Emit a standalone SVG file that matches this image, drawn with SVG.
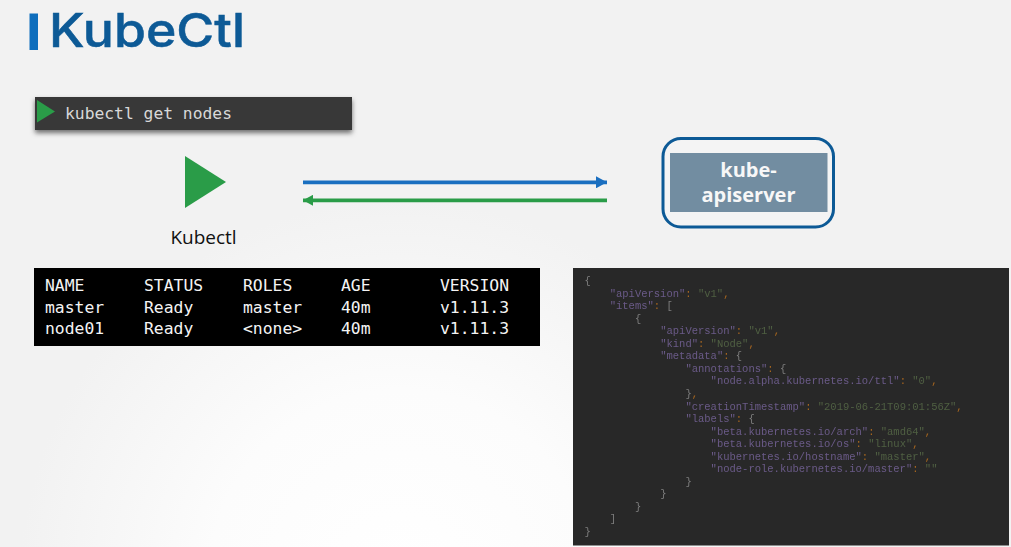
<svg xmlns="http://www.w3.org/2000/svg" width="1011" height="547" viewBox="0 0 1011 547">
<style>
.term{font-family:"DejaVu Sans Mono","Liberation Mono",monospace;font-size:16.4px;fill:#f4f4f4}
.js{font-family:"Liberation Mono",monospace;font-size:10.5px;white-space:pre;fill:#6a5a88}
.p{fill:#a5651f}.v{fill:#4f5f42}.b{fill:#7d7d7d}
.api{font-family:"Open Sans","Noto Sans",sans-serif;font-weight:700;font-size:20px;fill:#f7f7f7;text-anchor:middle}
</style>
<defs>
<radialGradient id="bg" gradientUnits="userSpaceOnUse" cx="400" cy="580" r="380">
<stop offset="0" stop-color="#ffffff"/><stop offset="0.5" stop-color="#fcfcfc"/><stop offset="1" stop-color="#f2f2f2"/>
</radialGradient>
<filter id="sh" x="-5%" y="-20%" width="110%" height="150%"><feDropShadow dx="0" dy="3" stdDeviation="2.5" flood-color="#000" flood-opacity="0.55"/></filter>
<filter id="soft" x="-2%" y="-2%" width="104%" height="104%"><feGaussianBlur stdDeviation="0.45"/></filter>
<marker id="ab" markerUnits="userSpaceOnUse" markerWidth="11" markerHeight="12" refX="11" refY="6" orient="auto"><path d="M0 0L11 6L0 12Z" fill="#1a6fc0"/></marker>
<marker id="ag" markerUnits="userSpaceOnUse" markerWidth="10" markerHeight="11" refX="10" refY="5.500" orient="auto"><path d="M0 0L10 5.500L0 11Z" fill="#2a9c48"/></marker>
</defs>
<rect width="1011" height="547" fill="#f2f2f2"/>
<rect width="1011" height="547" fill="url(#bg)"/>
<g id="title">
<rect x="29.500" y="13.500" width="8.500" height="36.500" fill="#0f6ebd"/>
<text x="49" y="46.500" font-family="Inter,'Open Sans',sans-serif" font-weight="500" font-size="47" fill="#0d5a96" stroke="#0d5a96" stroke-width="0.500" textLength="196" lengthAdjust="spacingAndGlyphs">KubeCtl</text>
</g>
<g id="command">
<rect x="35" y="97" width="317" height="33" fill="#383838" filter="url(#sh)"/>
<path d="M37 100L55 111.500L37 122.500Z" fill="#2a9c48"/>
<text x="65" y="119" font-family="'DejaVu Sans Mono',monospace" font-size="15.400" fill="#d8d8d8" textLength="167" lengthAdjust="spacingAndGlyphs">kubectl get nodes</text>
</g>
<g id="kubectl">
<path d="M185 156L226 182L185 208Z" fill="#2a9c48"/>
<text x="203.500" y="244" text-anchor="middle" font-family="'Open Sans',sans-serif" font-size="19" fill="#111">Kubectl</text>
</g>
<g id="connectors">
<line x1="303" y1="182.300" x2="607" y2="182.300" stroke="#1a6fc0" stroke-width="3.800" marker-end="url(#ab)"/>
<line x1="607" y1="200.300" x2="303" y2="200.300" stroke="#2a9c48" stroke-width="3.800" marker-end="url(#ag)"/>
</g>
<g id="kube-apiserver">
<rect x="663" y="138.500" width="170.500" height="88.500" rx="18" fill="#f4f4f4" stroke="#0d5a96" stroke-width="3"/>
<rect x="670" y="153" width="157.500" height="59" fill="#728da1"/>
<text class="api" x="748.500" y="176.500">kube-</text>
<text class="api" x="748.500" y="202">apiserver</text>
</g>
<g id="table">
<rect x="34" y="268" width="506" height="78" fill="#000"/>
<g class="term">
<text x="45" y="291">NAME</text><text x="144" y="291">STATUS</text><text x="243" y="291">ROLES</text><text x="341" y="291">AGE</text><text x="440" y="291">VERSION</text>
<text x="45" y="312.500">master</text><text x="144" y="312.500">Ready</text><text x="243" y="312.500">master</text><text x="341" y="312.500">40m</text><text x="440" y="312.500">v1.11.3</text>
<text x="45" y="334">node01</text><text x="144" y="334">Ready</text><text x="243" y="334">&lt;none&gt;</text><text x="341" y="334">40m</text><text x="440" y="334">v1.11.3</text>
</g>
</g>
<g id="json">
<rect x="573" y="268" width="436" height="277.500" fill="#282828"/>
<g class="js" filter="url(#soft)" transform="translate(0,-1.300)">
<text x="584.500" y="285.500" class="b">{</text>
<text x="609.700" y="298"><tspan>"apiVersion"</tspan><tspan class="p">: </tspan><tspan class="v">"v1"</tspan><tspan class="p">,</tspan></text>
<text x="609.700" y="310.600"><tspan>"items"</tspan><tspan class="p">: </tspan><tspan class="b">[</tspan></text>
<text x="635" y="323.100" class="b">{</text>
<text x="660.200" y="335.700"><tspan>"apiVersion"</tspan><tspan class="p">: </tspan><tspan class="v">"v1"</tspan><tspan class="p">,</tspan></text>
<text x="660.200" y="348.200"><tspan>"kind"</tspan><tspan class="p">: </tspan><tspan class="v">"Node"</tspan><tspan class="p">,</tspan></text>
<text x="660.200" y="360.700"><tspan>"metadata"</tspan><tspan class="p">: </tspan><tspan class="b">{</tspan></text>
<text x="685.400" y="373.300"><tspan>"annotations"</tspan><tspan class="p">: </tspan><tspan class="b">{</tspan></text>
<text x="710.600" y="385.800"><tspan>"node.alpha.kubernetes.io/ttl"</tspan><tspan class="p">: </tspan><tspan class="v">"0"</tspan><tspan class="p">,</tspan></text>
<text x="685.400" y="398.400"><tspan class="b">}</tspan><tspan class="p">,</tspan></text>
<text x="685.400" y="410.900"><tspan>"creationTimestamp"</tspan><tspan class="p">: </tspan><tspan class="v">"2019-06-21T09:01:56Z"</tspan><tspan class="p">,</tspan></text>
<text x="685.400" y="423.400"><tspan>"labels"</tspan><tspan class="p">: </tspan><tspan class="b">{</tspan></text>
<text x="710.600" y="436"><tspan>"beta.kubernetes.io/arch"</tspan><tspan class="p">: </tspan><tspan class="v">"amd64"</tspan><tspan class="p">,</tspan></text>
<text x="710.600" y="448.500"><tspan>"beta.kubernetes.io/os"</tspan><tspan class="p">: </tspan><tspan class="v">"linux"</tspan><tspan class="p">,</tspan></text>
<text x="710.600" y="461.100"><tspan>"kubernetes.io/hostname"</tspan><tspan class="p">: </tspan><tspan class="v">"master"</tspan><tspan class="p">,</tspan></text>
<text x="710.600" y="473.600"><tspan>"node-role.kubernetes.io/master"</tspan><tspan class="p">: </tspan><tspan class="v">""</tspan></text>
<text x="685.400" y="486.100" class="b">}</text>
<text x="660.200" y="498.700" class="b">}</text>
<text x="635" y="511.200" class="b">}</text>
<text x="609.700" y="523.800" class="b">]</text>
<text x="584.500" y="536.300" class="b">}</text>
</g>
</g>
</svg>
